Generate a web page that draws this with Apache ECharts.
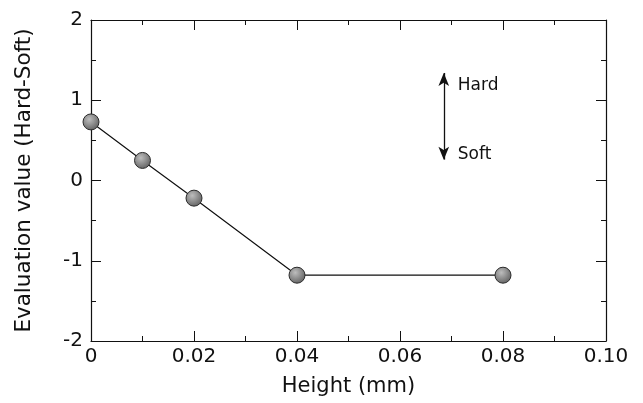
<!DOCTYPE html>
<html>
<head>
<meta charset="utf-8">
<script src="https://cdn.jsdelivr.net/npm/echarts@6/dist/echarts.min.js"></script>
<style>
  html, body { margin: 0; padding: 0; background: #fff; }
  #chart { width: 643px; height: 403px; }
</style>
</head>
<body>
<div id="chart"></div>
<script>
// data
const heights = [0, 0.01, 0.02, 0.04, 0.08]
const evalValues = [0.73, 0.25, -0.22, -1.18, -1.18]
// annotation arrow (x, yTop, yBottom) and its labels
const arrowX = 0.0685
const arrowTop = 1.34
const arrowBottom = 0.26
const arrowLabels = ['Hard', 'Soft']

const font = 'DejaVu Sans'
let chart = echarts.init(document.getElementById('chart'))

const tickStyle = { inside: true, length: 10, lineStyle: { color: '#111', width: 1 } }
const minorStyle = { show: true, splitNumber: 2, length: 5, lineStyle: { color: '#111', width: 1 } }
const lineStyle = { show: true, onZero: false, lineStyle: { color: '#111', width: 1.2 } }

let points = heights.map((h, i) => [h, evalValues[i]])

chart.setOption({
  animation: false,
  grid: { left: 91, right: 37, top: 20, bottom: 62 },
  xAxis: [
    {
      type: 'value', min: 0, max: 0.1, interval: 0.02,
      axisLine: lineStyle, axisTick: tickStyle, minorTick: minorStyle,
      splitLine: { show: false },
      axisLabel: {
        color: '#111', fontSize: 20, fontFamily: font, margin: 6,
        formatter: v => v === 0 ? '0' : v.toFixed(2)
      },
      name: 'Height (mm)', nameLocation: 'middle', nameGap: 35,
      nameTextStyle: { color: '#111', fontSize: 21, fontFamily: font }
    },
    {
      type: 'value', min: 0, max: 0.1, interval: 0.02, position: 'top',
      axisLine: lineStyle, axisTick: tickStyle, minorTick: minorStyle,
      splitLine: { show: false }, axisLabel: { show: false }
    }
  ],
  yAxis: [
    {
      type: 'value', min: -2, max: 2, interval: 1,
      axisLine: lineStyle, axisTick: tickStyle, minorTick: minorStyle,
      splitLine: { show: false },
      axisLabel: { color: '#111', fontSize: 20, fontFamily: font, margin: 8 },
      name: 'Evaluation value (Hard-Soft)', nameLocation: 'middle', nameGap: 56,
      nameTextStyle: { color: '#111', fontSize: 21.5, fontFamily: font }
    },
    {
      type: 'value', min: -2, max: 2, interval: 1, position: 'right',
      axisLine: lineStyle, axisTick: tickStyle, minorTick: minorStyle,
      splitLine: { show: false }, axisLabel: { show: false }
    }
  ],
  series: [
    {
      type: 'line',
      data: points,
      symbol: 'circle',
      symbolSize: 16,
      lineStyle: { color: '#111', width: 1.2 },
      itemStyle: {
        color: new echarts.graphic.RadialGradient(0.4, 0.35, 0.7, [
          { offset: 0, color: '#bdbdbd' },
          { offset: 1, color: '#5e5e5e' }
        ]),
        borderColor: '#2a2a2a',
        borderWidth: 1
      },
      z: 3,
      markLine: {
        silent: true,
        symbol: ['arrow', 'arrow'],
        symbolSize: [8, 13],
        label: { show: false },
        lineStyle: { color: '#111', width: 1.3, type: 'solid' },
        data: [[{ coord: [arrowX, arrowTop] }, { coord: [arrowX, arrowBottom] }]]
      },
      markPoint: {
        silent: true,
        symbol: 'circle',
        symbolSize: 0,
        label: {
          show: true, position: 'right', distance: 14,
          color: '#111', fontSize: 17, fontFamily: font,
          formatter: p => p.name
        },
        data: [
          { name: arrowLabels[0], coord: [arrowX, arrowTop - 0.16] },
          { name: arrowLabels[1], coord: [arrowX, arrowBottom + 0.06] }
        ]
      }
    }
  ]
})
</script>
</body>
</html>
